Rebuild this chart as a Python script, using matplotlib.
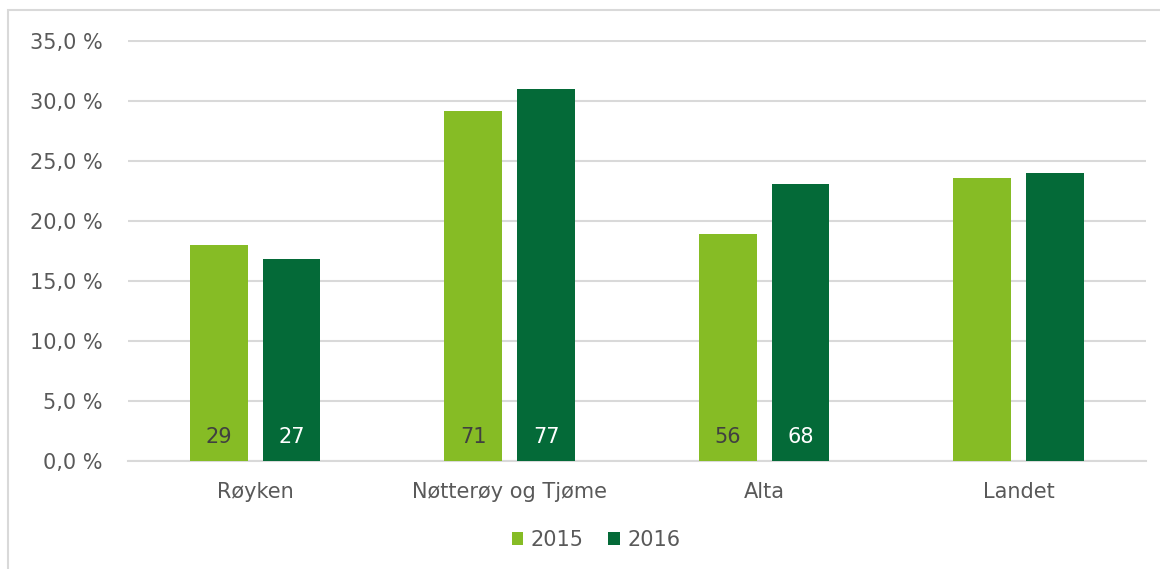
import numpy as np
import matplotlib
matplotlib.use('Agg')
import matplotlib.pyplot as plt
from matplotlib.patches import Rectangle

categories = ["Røyken", "Nøtterøy og Tjøme", "Alta", "Landet"]
years = ["2015", "2016"]
share_2015 = [18.0, 29.2, 18.9, 23.6]
share_2016 = [16.8, 31.0, 23.1, 24.0]
counts_2015 = ["29", "71", "56", ""]
counts_2016 = ["27", "77", "68", ""]

LIGHT = "#86BC25"
DARK = "#046A38"
TEXT = "#595959"
GRID = "#D9D9D9"

plt.rcParams['font.family'] = ['DejaVu Sans']
FS = 15

fig = plt.figure(figsize=(11.6, 5.69), dpi=100)
ax = fig.add_axes([0.1103, 0.1898, 0.8776, 0.7399])

# outer chart border (partly cut off in the original)
fig.patches.append(Rectangle((8 / 1160, -0.01), 1.1, 1 - 10 / 569 + 0.01,
                             transform=fig.transFigure, fill=False,
                             edgecolor=GRID, linewidth=1.5))

x = np.arange(len(categories))
w = 0.227
off = 0.143
b1 = ax.bar(x - off, share_2015, w, color=LIGHT, label=years[0], zorder=3)
b2 = ax.bar(x + off, share_2016, w, color=DARK, label=years[1], zorder=3)

for rects, labels, col in [(b1, counts_2015, "#404040"), (b2, counts_2016, "white")]:
    for r, lab in zip(rects, labels):
        if lab:
            ax.annotate(lab, (r.get_x() + r.get_width() / 2, 0),
                        xytext=(0, 17), textcoords='offset points',
                        ha='center', va='center', fontsize=FS, color=col, zorder=4)

ax.set_xlim(-0.5, 3.5)
ax.set_ylim(0, 35.08)
ax.set_yticks(np.arange(0, 36, 5))
ax.set_yticklabels([f"{v:.1f} %".replace(".", ",") for v in np.arange(0, 36, 5)])
ax.set_xticks(x)
ax.set_xticklabels(categories)
ax.tick_params(axis='both', length=0, labelsize=FS, labelcolor=TEXT)
ax.tick_params(axis='y', pad=18)
ax.tick_params(axis='x', pad=15)
ax.yaxis.grid(True, color=GRID, linewidth=1.5, zorder=0)
ax.set_axisbelow(True)
for s in ['top', 'right', 'left']:
    ax.spines[s].set_visible(False)
ax.spines['bottom'].set_color(GRID)
ax.spines['bottom'].set_linewidth(1.5)

fig.legend(handles=[b1, b2], loc='center', bbox_to_anchor=(596 / 1160, 1 - 540 / 569),
           ncol=2, frameon=False, fontsize=FS, labelcolor=TEXT,
           handlelength=0.55, handleheight=0.55, handletextpad=0.35, columnspacing=1.2)

fig.savefig("out.png", dpi=100)
